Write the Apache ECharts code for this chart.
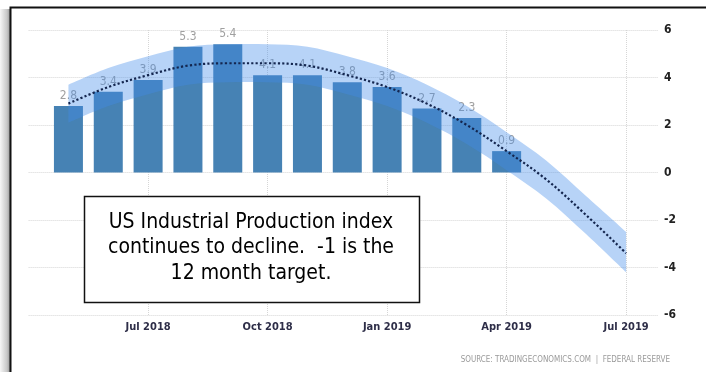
<!DOCTYPE html>
<html>
<head>
<meta charset="utf-8">
<script src="https://cdn.jsdelivr.net/npm/echarts@6/dist/echarts.min.js"></script>
<style>
html,body{margin:0;padding:0;background:#fff;}
#c{width:706px;height:372px;}
</style>
</head>
<body>
<div id="c"></div>
<script>
// ---- data ----
var barMonths = ['2018-05','2018-06','2018-07','2018-08','2018-09','2018-10','2018-11','2018-12','2019-01','2019-02','2019-03','2019-04'];
var barValues = [2.8, 3.4, 3.9, 5.3, 5.4, 4.1, 4.1, 3.8, 3.6, 2.7, 2.3, 0.9];

var trendMonths = ['2018-05','2018-06','2018-07','2018-08','2018-09','2018-10','2018-11','2018-12','2019-01','2019-02','2019-03','2019-04','2019-05','2019-06','2019-07'];
var trendValues = [2.9, 3.6, 4.1, 4.5, 4.6, 4.6, 4.5, 4.1, 3.6, 2.9, 2.0, 0.9, -0.3, -1.8, -3.4];
var bandUpper   = [3.7, 4.4, 4.9, 5.3, 5.4, 5.4, 5.3, 4.9, 4.4, 3.7, 2.8, 1.7, 0.5, -1.0, -2.5];
var bandLower   = [2.1, 2.8, 3.3, 3.7, 3.8, 3.8, 3.7, 3.3, 2.8, 2.1, 1.2, 0.1, -1.1, -2.6, -4.2];

var xTickLabels = ['Jul 2018','Oct 2018','Jan 2019','Apr 2019','Jul 2019'];
var yTicks = [-6, -4, -2, 0, 2, 4, 6];
var noteText = 'US Industrial Production index\ncontinues to decline.  -1 is the\n12 month target.';
var sourceText = 'SOURCE: TRADINGECONOMICS.COM  |  FEDERAL RESERVE';

// month index relative to Jul 2018
function monthIndex(s){ var p = s.split('-'); return (parseInt(p[0],10)-2018)*12 + (parseInt(p[1],10)-7); }

var barData = barMonths.map(function(m,i){ return [monthIndex(m), barValues[i]]; });
var trendData = trendMonths.map(function(m,i){ return [monthIndex(m), trendValues[i]]; });
var bandData = trendMonths.map(function(m,i){ return [monthIndex(m), bandLower[i], bandUpper[i]]; });

var narrow = "'Liberation Sans Narrow','DejaVu Sans Condensed','Roboto',sans-serif";

// smooth path segment through pixel points (Catmull-Rom as cubic Bezier)
function curveTo(pts){
  var s = '';
  for (var i = 0; i < pts.length - 1; i++){
    var p0 = pts[Math.max(i-1,0)], p1 = pts[i], p2 = pts[i+1], p3 = pts[Math.min(i+2, pts.length-1)];
    var c1x = p1[0] + (p2[0]-p0[0])/6, c1y = p1[1] + (p2[1]-p0[1])/6;
    var c2x = p2[0] - (p3[0]-p1[0])/6, c2y = p2[1] - (p3[1]-p1[1])/6;
    s += ' C' + c1x + ' ' + c1y + ' ' + c2x + ' ' + c2y + ' ' + p2[0] + ' ' + p2[1];
  }
  return s;
}

function renderBand(params, api){
  if (params.dataIndexInside !== 0) return null;
  var up = [], lo = [];
  for (var i = 0; i < bandData.length; i++){
    up.push(api.coord([bandData[i][0], bandData[i][2]]));
    lo.push(api.coord([bandData[i][0], bandData[i][1]]));
  }
  lo.reverse();
  var d = 'M' + up[0][0] + ' ' + up[0][1] + curveTo(up) +
          ' L' + lo[0][0] + ' ' + lo[0][1] + curveTo(lo) + ' Z';
  return {type:'path', shape:{pathData:d}, style:{fill:'rgba(66,140,235,0.38)'}, silent:true};
}

var chart = echarts.init(document.getElementById('c'), null, {renderer:'canvas'});
chart.setOption({
  animation:false,
  backgroundColor:'#fff',
  grid:{left:28.6, right:48, top:30, bottom:57, containLabel:false},
  xAxis:{
    type:'value', min:-3, max:12.8, interval:3,
    axisLine:{show:false}, axisTick:{show:false},
    splitLine:{show:true, showMinLine:false, showMaxLine:false, lineStyle:{color:'#d6d6d6', type:'dotted', width:1}},
    axisLabel:{
      margin:7, color:'#2e2e48', fontSize:11, fontFamily:narrow, fontWeight:'bold',
      showMinLabel:false, showMaxLabel:false,
      formatter:function(v){ var k = Math.round(v/3); return (v>=0 && k<xTickLabels.length) ? xTickLabels[k] : ''; }
    }
  },
  yAxis:{
    type:'value', position:'right', min:-6, max:6, interval:2,
    axisLine:{show:false}, axisTick:{show:false},
    splitLine:{show:true, lineStyle:{color:'#d6d6d6', type:'dotted', width:1}},
    axisLabel:{margin:6, color:'#222', fontSize:12, fontFamily:narrow, fontWeight:'bold',
      formatter:function(v){ return yTicks.indexOf(v)>=0 ? String(v) : ''; }}
  },
  series:[
    {
      type:'bar', data:barData, barWidth:29, z:2,
      itemStyle:{color:'#4682b4'},
      label:{show:true, position:'top', distance:4, color:'#a0a0a0', fontSize:12, fontFamily:narrow,
        formatter:function(p){ return p.value[1].toFixed(1); }}
    },
    {
      type:'custom', data:bandData, encode:{x:0, y:[1,2]}, renderItem:renderBand, z:3, silent:true
    },
    {
      type:'line', data:trendData, smooth:0.35, symbol:'none', z:4,
      lineStyle:{color:'#14264f', width:2.2, type:'dotted'}
    }
  ],
  graphic:[
    {type:'rect', left:0, top:9, shape:{width:10, height:380},
      style:{fill:new echarts.graphic.LinearGradient(0,0,1,0,[{offset:0,color:'#f7f7f7'},{offset:0.7,color:'#c8c8c8'},{offset:1,color:'#9a9a9a'}])}, z:0, silent:true},
    {type:'rect', shape:{x:10.5, y:7.5, width:720, height:400},
      style:{fill:'none', stroke:'#111', lineWidth:2}, z:100, silent:true},
    {type:'rect', shape:{x:84.5, y:196.5, width:335, height:106},
      style:{fill:'#fff', stroke:'#111', lineWidth:1.5}, z:50, silent:true},
    {type:'text', x:251, y:248, z:51, silent:true,
      style:{text:noteText, fill:'#000', font:"21px 'DejaVu Sans Condensed','DejaVu Sans',sans-serif",
        align:'center', verticalAlign:'middle', lineHeight:25.5}},
    {type:'text', x:670, y:360, z:51, silent:true,
      style:{text:sourceText, fill:'#9a9a9a', font:"8px 'DejaVu Sans Condensed','DejaVu Sans',sans-serif",
        align:'right', verticalAlign:'middle'}}
  ]
});
</script>
</body>
</html>
